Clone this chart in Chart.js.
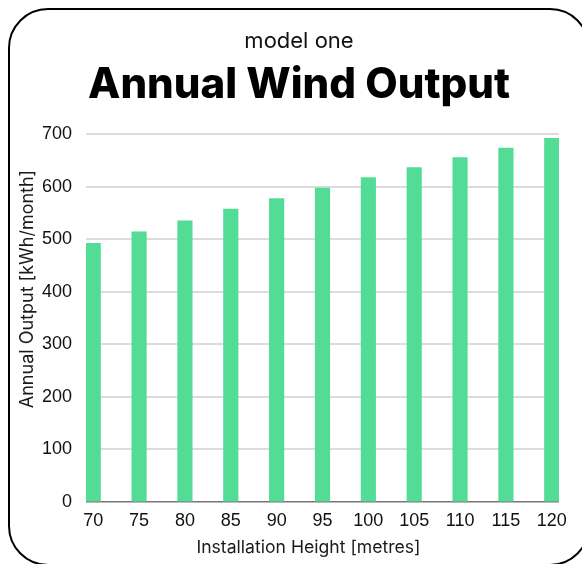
<!DOCTYPE html>
<html>
<head>
<meta charset="utf-8">
<script src="https://cdn.jsdelivr.net/npm/chart.js@4.4.1/dist/chart.umd.min.js"></script>
<style>
  html, body { margin: 0; padding: 0; background: #fff; overflow: hidden; }
  .card {
    position: absolute; left: 8px; top: 8px;
    width: 582px; height: 558px;
    box-sizing: border-box;
    border: 2px solid #000; border-radius: 40px;
  }
  #chart { position: absolute; left: -2px; top: -2px; }
</style>
</head>
<body>
<div class="card">
  <canvas id="chart" width="582" height="558"></canvas>
</div>
<script>
// ── Data ────────────────────────────────────────────────────
const heights = [70, 75, 80, 85, 90, 95, 100, 105, 110, 115, 120];
const output  = [492, 514, 535, 557, 577, 597, 617, 636, 655, 673, 692];
const yTicks  = [0, 100, 200, 300, 400, 500, 600, 700];

const BAR_PX  = 14.5;                  // bar thickness in pixels
const HALF    = 0.79;                  // half a bar, in metres, so bars sit flush with the plot edges

// ── Axis titles drawn off-centre like the reference ─────────
const axisTitles = {
    id: 'axisTitles',
    afterDraw(chart) {
        const { ctx, chartArea: a } = chart;
        ctx.save();
        ctx.fillStyle = '#1a1a1a';
        ctx.textAlign = 'center';
        ctx.textBaseline = 'middle';
        ctx.font = '17.6px Inter';
        ctx.fillText('Installation Height [metres]', (a.left + a.right) / 2 - 14, a.bottom + 46);
        ctx.font = '18px Inter';
        ctx.translate(20, (a.top + a.bottom) / 2 - 29);
        ctx.rotate(-Math.PI / 2);
        ctx.fillText('Annual Output [kWh/month]', 0, 0);
        ctx.restore();
    }
};

new Chart(document.getElementById('chart'), {
    type: 'bar',
    data: {
        datasets: [{
            data: heights.map((h, i) => ({ x: h, y: output[i] })),
            backgroundColor: '#52dc96',
            borderWidth: 0,
            barThickness: BAR_PX
        }]
    },
    options: {
        responsive: false,
        animation: false,
        layout: { padding: 0 },
        plugins: {
            legend: { display: false },
            tooltip: { enabled: false },
            title: {
                display: true,
                text: 'model one',
                color: '#111',
                font: { family: 'Inter', size: 22, weight: '400' },
                padding: { top: 20, bottom: 0 }
            },
            subtitle: {
                display: true,
                text: 'Annual Wind Output',
                color: '#000',
                font: { family: 'Inter', size: 42, weight: '800' },
                padding: { top: 6, bottom: 23.2 }
            }
        },
        scales: {
            x: {
                type: 'linear',
                offset: false,
                min: heights[0] - HALF,
                max: heights[heights.length - 1] + HALF,
                afterBuildTicks: axis => { axis.ticks = heights.map(v => ({ value: v })); },
                afterFit: axis => { axis.height = 64; },
                grid: { display: false, drawTicks: false },
                border: { display: false },
                ticks: {
                    color: '#111',
                    padding: 8,
                    autoSkip: false,
                    maxRotation: 0,
                    font: { family: 'Liberation Sans', size: 18 }
                }
            },
            y: {
                min: 0,
                max: 700,
                afterBuildTicks: axis => { axis.ticks = yTicks.map(v => ({ value: v })); },
                afterFit: axis => { axis.width = 78; },
                grid: {
                    drawTicks: false,
                    color: c => c.tick.value === 0 ? '#777' : '#dcdcdc',
                    lineWidth: c => c.tick.value === 0 ? 1.5 : 2
                },
                border: { display: false },
                ticks: {
                    color: '#111',
                    padding: 14,
                    font: { family: 'Liberation Sans', size: 18 }
                }
            },
            // empty right-hand gutter so the plot stops short of the card edge
            gutter: {
                type: 'linear',
                position: 'right',
                grid: { display: false, drawTicks: false },
                border: { display: false },
                ticks: { display: false },
                afterFit: axis => { axis.width = 31; }
            }
        }
    },
    plugins: [axisTitles]
});
</script>
</body>
</html>
